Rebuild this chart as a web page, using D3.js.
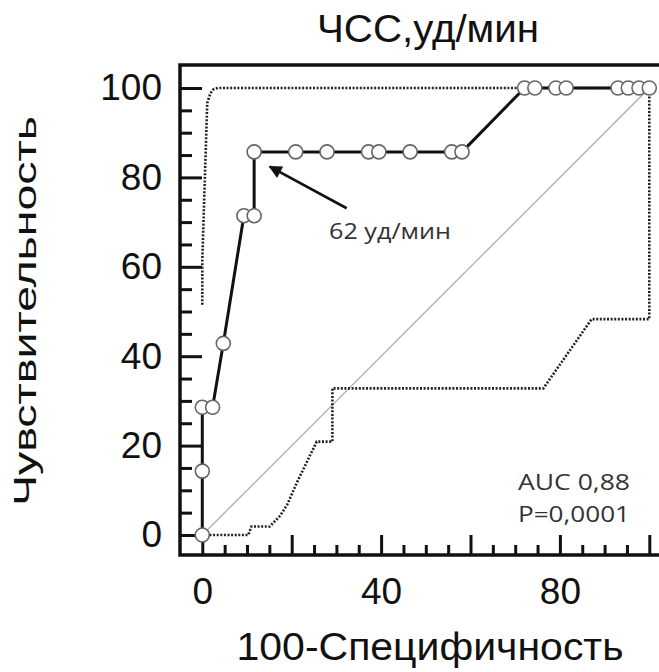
<!DOCTYPE html>
<html>
<head>
<meta charset="utf-8">
<script src="https://cdn.jsdelivr.net/npm/d3@7"></script>
<style>
  body { margin: 0; background: #fff; }
  svg { display: block; }
</style>
</head>
<body>
<div id="chart"></div>
<script>
// ROC curve, HR (bpm)
var rocX = [0, 0, 0, 2.3, 4.7, 9.3, 11.6, 11.6, 20.9, 27.9, 37.2, 39.5, 46.5, 55.8, 58.1, 72.1, 74.4, 79.1, 81.4, 93.0, 95.3, 97.7, 100];
var rocY = [0, 14.29, 28.57, 28.57, 42.86, 71.43, 71.43, 85.71, 85.71, 85.71, 85.71, 85.71, 85.71, 85.71, 85.71, 100, 100, 100, 100, 100, 100, 100, 100];

// confidence bounds (dotted)
var upperX = [0, 0, 1.1, 1.8, 2.5, 3.5, 100];
var upperY = [51.5, 61.5, 96.6, 98.8, 99.7, 100, 100];
var lowerX = [0, 10.3, 11.0, 15.1, 17.4, 19.0, 21.1, 25.6, 29.1, 29.1, 76.3, 87.1, 100, 100];
var lowerY = [0, 0, 1.9, 1.9, 4.3, 6.8, 11.6, 20.9, 20.9, 32.8, 32.8, 48.3, 48.3, 100];

var majorTicks = [0, 20, 40, 60, 80, 100];
var minorTicks = d3.range(0, 101, 5).filter(function(v){ return v % 20 != 0; });
var xLabels = [0, 40, 80];
var yLabels = [0, 20, 40, 60, 80, 100];

var cutoffLabel = "62 уд/мин";
var cutoff = {from: [32.3, 73.1], to: [15.1, 82.4]};
var statLines = ["AUC  0,88", "P=0,0001"];

var svgWidth = 659, svgHeight = 672;
var frameLeft = 180, frameTop = 65, frameBottom = 555;

var svg = d3.select("#chart").append("svg")
    .attr("width", svgWidth)
    .attr("height", svgHeight);

var x = d3.scaleLinear().domain([0, 100]).range([202.3, 649.3]);
var y = d3.scaleLinear().domain([0, 100]).range([535, 88]);

// arrow head
svg.append("defs").append("marker")
    .attr("id", "arrow")
    .attr("viewBox", "0 0 10 10")
    .attr("refX", 9).attr("refY", 5)
    .attr("markerWidth", 6).attr("markerHeight", 5)
    .attr("markerUnits", "strokeWidth")
    .attr("orient", "auto")
    .append("path")
    .attr("d", "M0,0 L10,5 L0,10 z")
    .attr("fill", "#111");

// ticks (inside the frame)
function tickAxis(axis, g){
    g.call(axis);
    g.select(".domain").remove();
    g.selectAll("line").attr("stroke", "#111").attr("stroke-width", 3);
}
tickAxis(d3.axisRight(y).tickValues(majorTicks).tickSize(22).tickFormat(""),
    svg.append("g").attr("transform", "translate(" + frameLeft + ",0)"));
tickAxis(d3.axisRight(y).tickValues(minorTicks).tickSize(12).tickFormat(""),
    svg.append("g").attr("transform", "translate(" + frameLeft + ",0)"));
tickAxis(d3.axisTop(x).tickValues(majorTicks).tickSize(20).tickFormat(""),
    svg.append("g").attr("transform", "translate(0," + frameBottom + ")"));
tickAxis(d3.axisTop(x).tickValues(minorTicks).tickSize(10).tickFormat(""),
    svg.append("g").attr("transform", "translate(0," + frameBottom + ")"));

// tick labels
var yl = svg.append("g")
    .attr("transform", "translate(" + frameLeft + ",0)")
    .call(d3.axisLeft(y).tickValues(yLabels).tickSize(0).tickPadding(18));
var xl = svg.append("g")
    .attr("transform", "translate(0," + frameBottom + ")")
    .call(d3.axisBottom(x).tickValues(xLabels).tickSize(0).tickPadding(23));
[yl, xl].forEach(function(g){
    g.select(".domain").remove();
    g.selectAll("text")
        .attr("font-family", "'Liberation Sans', Arial, sans-serif")
        .attr("font-size", 37)
        .attr("fill", "#111");
});

// frame: left, top, bottom (no right edge in the picture)
svg.append("path")
    .attr("d", "M" + svgWidth + "," + frameTop + " H" + frameLeft + " V" + frameBottom + " H" + svgWidth)
    .attr("fill", "none")
    .attr("stroke", "#111")
    .attr("stroke-width", 3.5);

var line = d3.line().x(function(d){ return x(d[0]); }).y(function(d){ return y(d[1]); });

// reference diagonal
svg.append("path")
    .attr("d", line([[0, 0], [100, 100]]))
    .attr("fill", "none")
    .attr("stroke", "#aaa")
    .attr("stroke-width", 1.2);

// dotted bounds
[[upperX, upperY], [lowerX, lowerY]].forEach(function(s){
    svg.append("path")
        .attr("d", line(d3.zip(s[0], s[1])))
        .attr("fill", "none")
        .attr("stroke", "#222")
        .attr("stroke-width", 2.6)
        .attr("stroke-dasharray", "2,1.6");
});

// ROC curve
var roc = d3.zip(rocX, rocY);
svg.append("path")
    .attr("d", line(roc))
    .attr("fill", "none")
    .attr("stroke", "#111")
    .attr("stroke-width", 3);

svg.selectAll("circle.pt")
    .data(roc)
    .enter()
    .append("circle")
    .attr("class", "pt")
    .attr("cx", function(d){ return x(d[0]); })
    .attr("cy", function(d){ return y(d[1]); })
    .attr("r", 7)
    .attr("fill", "#fff")
    .attr("stroke", "#666")
    .attr("stroke-width", 1.6);

// cut-off arrow + label
svg.append("line")
    .attr("x1", x(cutoff.from[0])).attr("y1", y(cutoff.from[1]))
    .attr("x2", x(cutoff.to[0])).attr("y2", y(cutoff.to[1]))
    .attr("stroke", "#111")
    .attr("stroke-width", 2.6)
    .attr("marker-end", "url(#arrow)");

svg.append("text")
    .attr("x", 329).attr("y", 239)
    .attr("font-family", "'Open Sans', sans-serif")
    .attr("font-size", 21)
    .attr("fill", "#333")
    .attr("textLength", 122)
    .attr("lengthAdjust", "spacingAndGlyphs")
    .text(cutoffLabel);

svg.selectAll("text.stat")
    .data(statLines)
    .enter()
    .append("text")
    .attr("class", "stat")
    .attr("x", 518)
    .attr("y", function(d, i){ return 490 + i * 32; })
    .attr("font-family", "'Open Sans', sans-serif")
    .attr("font-size", 22)
    .attr("fill", "#333")
    .attr("textLength", 112)
    .attr("lengthAdjust", "spacingAndGlyphs")
    .text(function(d){ return d; });

// titles
svg.append("text")
    .attr("x", 428).attr("y", 42)
    .attr("text-anchor", "middle")
    .attr("font-family", "'Liberation Sans', Arial, sans-serif")
    .attr("font-size", 38)
    .attr("fill", "#111")
    .attr("textLength", 222)
    .attr("lengthAdjust", "spacingAndGlyphs")
    .text("ЧСС,уд/мин");

svg.append("text")
    .attr("x", 430).attr("y", 660)
    .attr("text-anchor", "middle")
    .attr("font-family", "'Liberation Sans', Arial, sans-serif")
    .attr("font-size", 38)
    .attr("fill", "#111")
    .attr("textLength", 387)
    .attr("lengthAdjust", "spacingAndGlyphs")
    .text("100-Специфичность");

svg.append("text")
    .attr("transform", "translate(36,311) rotate(-90)")
    .attr("text-anchor", "middle")
    .attr("font-family", "'Liberation Sans', Arial, sans-serif")
    .attr("font-size", 31)
    .attr("fill", "#111")
    .attr("textLength", 390)
    .attr("lengthAdjust", "spacingAndGlyphs")
    .text("Чувствительность");
</script>
</body>
</html>
